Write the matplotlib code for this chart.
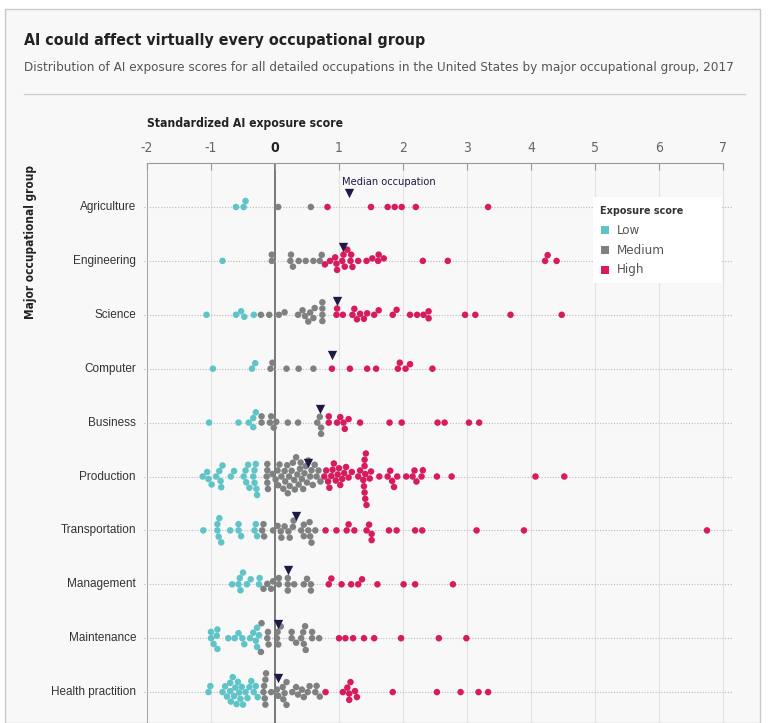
import numpy as np
import matplotlib.pyplot as plt
from matplotlib import font_manager as fm
from matplotlib.patches import Rectangle
from matplotlib.lines import Line2D

# --- data ---
groups = ['Agriculture', 'Engineering', 'Science', 'Computer', 'Business',
          'Production', 'Transportation', 'Management', 'Maintenance',
          'Health practition']

agriculture = [-0.61, -0.49, -0.46, 0.05, 0.56, 0.82, 1.50, 1.76, 1.87, 1.98, 2.20, 3.33]

engineering = [-0.82, -0.05, -0.05, 0.24, 0.25, 0.28, 0.37, 0.48, 0.60, 0.70, 0.73,
               0.78, 0.86, 0.94, 0.96, 0.97, 1.05, 1.07, 1.09, 1.13, 1.18, 1.19, 1.21,
               1.30, 1.43, 1.52, 1.61, 1.62, 1.70, 2.31, 2.70, 4.22, 4.26, 4.40]

science = [-1.07, -0.61, -0.53, -0.48, -0.33, -0.22, -0.09, 0.06, 0.15, 0.36, 0.43,
           0.47, 0.52, 0.55, 0.60, 0.62, 0.74, 0.74, 0.74, 0.74, 0.96, 0.97, 1.06,
           1.21, 1.24, 1.28, 1.33, 1.39, 1.44, 1.55, 1.62, 1.84, 1.90, 2.11, 2.22,
           2.32, 2.40, 2.40, 2.97, 3.13, 3.68, 4.48]

computer = [-0.97, -0.36, -0.31, -0.07, -0.04, 0.18, 0.37, 0.60, 0.89, 1.17, 1.44,
            1.58, 1.92, 1.95, 2.04, 2.11, 2.46]

business = [-1.03, -0.57, -0.41, -0.34, -0.34, -0.30, -0.21, -0.21, -0.08, -0.06,
            -0.02, 0.02, 0.20, 0.36, 0.66, 0.70, 0.72, 0.72, 0.84, 0.84, 0.97, 1.02,
            1.07, 1.09, 1.15, 1.33, 1.79, 1.98, 2.54, 2.65, 3.03, 3.19]

production = [-1.13, -1.06, -1.04, -0.99, -0.92, -0.87, -0.85, -0.84, -0.82, -0.69,
              -0.64, -0.49, -0.46, -0.45, -0.42, -0.40, -0.34, -0.32, -0.32, -0.30,
              -0.29, -0.28,
              -0.13, -0.12, -0.12, -0.11, -0.12, -0.04, 0.01, 0.04, 0.05, 0.07, 0.10,
              0.13, 0.15, 0.16, 0.19, 0.20, 0.22, 0.23, 0.26, 0.28, 0.30, 0.31, 0.33,
              0.35, 0.37, 0.39, 0.40, 0.42, 0.44, 0.46, 0.48, 0.50, 0.52, 0.55, 0.57,
              0.59, 0.62, 0.65, 0.68, 0.71,
              0.77, 0.80, 0.83, 0.85, 0.88, 0.90, 0.92, 0.95, 0.98, 1.00, 1.02, 1.05,
              1.08, 1.11, 1.15, 1.20, 1.30, 1.33, 1.38, 1.39, 1.40, 1.40, 1.40, 1.41,
              1.41, 1.42, 1.43, 1.48, 1.50, 1.63, 1.76, 1.80, 1.83, 1.86, 1.91, 2.05,
              2.15, 2.18, 2.21, 2.29, 2.31, 2.53, 2.76, 4.07, 4.52]

transportation = [-1.12, -0.90, -0.90, -0.88, -0.87, -0.84, -0.70, -0.57, -0.57, -0.53,
                  -0.32, -0.30, -0.28, -0.20, -0.18, -0.17, -0.03, 0.04, 0.09, 0.10,
                  0.15, 0.21, 0.23, 0.28, 0.29, 0.41, 0.45, 0.45, 0.52, 0.54, 0.55,
                  0.57, 0.63, 0.79, 0.96, 1.12, 1.15, 1.24, 1.43, 1.47, 1.51, 1.51,
                  1.78, 1.90, 2.19, 2.30, 3.15, 3.89, 6.75]

management = [-0.67, -0.57, -0.55, -0.54, -0.50, -0.44, -0.38, -0.25, -0.24, -0.18,
              -0.12, -0.06, -0.03, 0.06, 0.06, 0.20, 0.20, 0.20, 0.30, 0.45, 0.50,
              0.56, 0.56, 0.84, 0.88, 1.04, 1.19, 1.30, 1.36, 1.60, 2.01, 2.19, 2.78]

maintenance = [-1.00, -1.00, -0.96, -0.91, -0.90, -0.90, -0.73, -0.63, -0.57, -0.51,
               -0.48, -0.39, -0.34, -0.30, -0.28, -0.28, -0.25, -0.22, -0.21, -0.12,
               -0.11, -0.10, 0.03, 0.04, 0.05, 0.09, 0.26, 0.26, 0.33, 0.41, 0.44,
               0.45, 0.47, 0.48, 0.58, 0.58, 0.69, 1.00, 1.10, 1.22, 1.39, 1.55, 1.97,
               2.56, 2.99]

health = [-1.04, -1.01, -0.82, -0.78, -0.75, -0.70, -0.70, -0.69, -0.66, -0.64, -0.62,
          -0.60, -0.58, -0.56, -0.54, -0.52, -0.50, -0.46, -0.43, -0.40, -0.37, -0.33,
          -0.30, -0.27,
          -0.18, -0.17, -0.16, -0.15, -0.15, -0.14, -0.06, 0.03, 0.05, 0.12, 0.13,
          0.15, 0.18, 0.18, 0.27, 0.33, 0.36, 0.42, 0.45, 0.51, 0.54, 0.63, 0.65, 0.70,
          0.79, 1.06, 1.13, 1.16, 1.16, 1.18, 1.25, 1.28, 1.84, 2.53, 2.90, 3.18, 3.33]

scores = [agriculture, engineering, science, computer, business, production,
          transportation, management, maintenance, health]

medians = [1.16, 1.07, 0.97, 0.89, 0.71, 0.51, 0.33, 0.20, 0.05, 0.04]

low_cut, high_cut = -0.23, 0.75
level_names = ['Low', 'Medium', 'High']
level_colors = ['#5ec4c8', '#7f8181', '#d81b5f']

# --- pick a narrow font if one is around ---
installed = fm.fontManager.ttflist
narrow = dict(family=['DejaVu Sans'])
if any(f.name == 'Liberation Sans Narrow' for f in installed):
    narrow = dict(family=['Liberation Sans Narrow', 'DejaVu Sans'])
elif any(f.name == 'DejaVu Sans' and f.stretch == 'condensed' for f in installed):
    narrow = dict(family=['DejaVu Sans'], stretch='condensed')
else:
    for f in installed:
        if 'Condensed' in f.name or 'Narrow' in f.name:
            narrow = dict(family=[f.name, 'DejaVu Sans'])
            break

W, H = 768, 723
bg = '#f8f8f8'


def fx(px):
    return px / W


def fy(py):
    return 1 - py / H


fig = plt.figure(figsize=(W / 100, H / 100), dpi=100, facecolor='white')
renderer = fig.canvas.get_renderer()


def fit(t, size_px, vertical=False):
    # scale font so the text spans about the same pixels as in the reference
    bb = t.get_window_extent(renderer)
    cur = bb.height if vertical else bb.width
    t.set_fontsize(t.get_fontsize() * size_px / cur)


fig.patches.append(Rectangle((fx(5), 0), fx(760) - fx(5), fy(9), transform=fig.transFigure,
                             facecolor=bg, edgecolor='#c8c8c8', lw=1, zorder=-10))

t = fig.text(fx(24), fy(40), 'AI could affect virtually every occupational group',
             weight='bold', fontsize=13, color='#222222', va='center', **narrow)
fit(t, 400)
t = fig.text(fx(24), fy(67),
             'Distribution of AI exposure scores for all detailed occupations in the United States by major occupational group, 2017',
             fontsize=10, color='#555555', va='center', **narrow)
fit(t, 712)
fig.add_artist(Line2D([fx(24), fx(745)], [fy(94), fy(94)], color='#cccccc', lw=1))
t = fig.text(fx(147), fy(124), 'Standardized AI exposure score',
             weight='bold', fontsize=10, color='#222222', va='center', **narrow)
fit(t, 196)
t = fig.text(fx(31), fy(242), 'Major occupational group', weight='bold',
             fontsize=10, color='#222222', rotation=90, va='center', ha='center', **narrow)
fit(t, 152, vertical=True)

# axes: -2 at x=147, 7 at x=723 -> 64 px per unit; rows every 53.9 px starting y=207
ppu = 64.0
row_px = 53.9
xmin, xmax = -2 - 3 / ppu, 7 + 9 / ppu
ytop, ybot = (163 - 207) / row_px, (H - 207) / row_px
ax = fig.add_axes([fx(144), 0, fx(732) - fx(144), fy(163)])
ax.set_facecolor('none')
ax.set_xlim(xmin, xmax)
ax.set_ylim(ybot, ytop)

for s in ['left', 'right', 'bottom']:
    ax.spines[s].set_visible(False)
ax.spines['top'].set_bounds(-2, 7)
ax.spines['top'].set_color('#999999')
ax.xaxis.tick_top()
ax.set_xticks(range(-2, 8))
ax.set_xticklabels([str(v) for v in range(-2, 8)], fontsize=10, color='#666666', **narrow)
ax.get_xticklabels()[2].set_weight('bold')
ax.get_xticklabels()[2].set_color('#222222')
ax.tick_params(axis='x', direction='in', length=5, color='#999999', pad=6)
ax.set_yticks([])

for v in range(-2, 8):
    c = '#555555' if v == 0 else ('#aaaaaa' if v == -2 else '#e2e2e2')
    ax.axvline(v, color=c, lw=1.1 if v == 0 else 0.8, zorder=0)

for i, g in enumerate(groups):
    ax.axhline(i, color='#bbbbbb', lw=0.8, ls=(0, (1, 1.5)), zorder=0)
    ax.text(xmin - 8 / ppu, i, g, ha='right', va='center', fontsize=8.5,
            family=['Liberation Sans', 'DejaVu Sans'], color='#333333')


def swarm(xs, d):
    # simple beeswarm: place each point (sorted by x) at the smallest free offset
    steps = np.arange(0.25, 60, 0.25)
    cands = np.concatenate([[0.0], np.column_stack([steps, -steps]).ravel()])
    order = np.argsort(xs, kind='stable')
    ys = np.zeros(len(xs))
    placed = []
    for k in order:
        x = xs[k]
        near = [(px, py) for px, py in placed if abs(px - x) < d]
        for c in cands:
            if all((px - x) ** 2 + (py - c) ** 2 >= d * d for px, py in near):
                ys[k] = c
                break
        placed.append((x, ys[k]))
    return ys


diam = 6.2  # px
for i, vals in enumerate(scores):
    vals = np.array(vals)
    offs = swarm(vals * ppu, diam) / row_px
    lvl = np.where(vals < low_cut, 0, np.where(vals > high_cut, 2, 1))
    ax.scatter(vals, i - offs, s=22, c=[level_colors[l] for l in lvl],
               linewidths=0, zorder=3, clip_on=False)
    ax.scatter(medians[i], i - 14 / row_px, marker='v', s=45, color='#1e1a48',
               linewidths=0, zorder=4)

t = ax.text(1.05, -25 / row_px, 'Median occupation', fontsize=8.5,
            color='#1e1a48', va='center', **narrow)
fit(t, 94)

# legend box
fig.patches.append(Rectangle((fx(593), fy(283)), fx(722) - fx(593), fy(197) - fy(283),
                             transform=fig.transFigure, facecolor='white',
                             edgecolor='none', zorder=5))
t = fig.text(fx(600), fy(211), 'Exposure score', weight='bold', fontsize=9.5,
             color='#333333', va='center', zorder=6, **narrow)
fit(t, 84)
for j, (nm, col) in enumerate(zip(level_names, level_colors)):
    yy = 230 + 20 * j
    fig.patches.append(Rectangle((fx(601), fy(yy + 4)), fx(8), fy(0) - fy(8),
                                 transform=fig.transFigure, facecolor=col,
                                 edgecolor='none', zorder=6))
    fig.text(fx(617), fy(yy), nm, fontsize=9.5, color='#555555',
             va='center', zorder=6, **narrow)

fig.savefig('out.png', dpi=100, facecolor=fig.get_facecolor())
